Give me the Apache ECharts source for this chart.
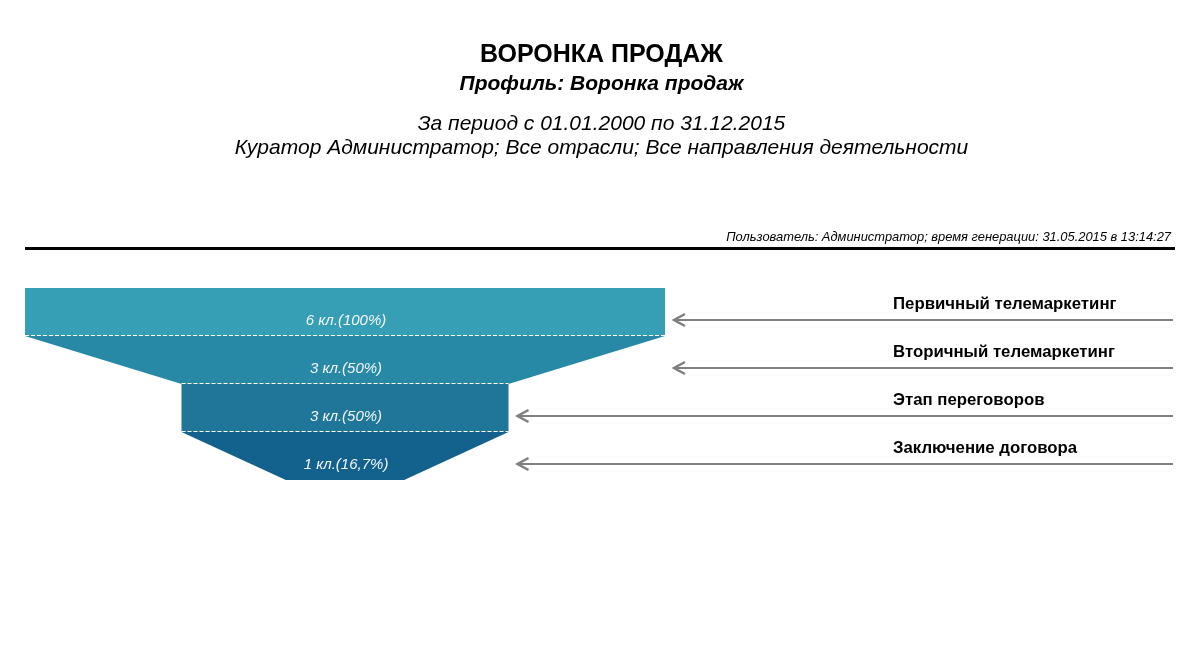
<!DOCTYPE html>
<html><head><meta charset="utf-8">
<script src="https://cdn.jsdelivr.net/npm/echarts@6/dist/echarts.min.js"></script>
<style>html,body{margin:0;padding:0;background:#fff}#c{width:1203px;height:648px}</style>
</head><body><div id="c"></div>
<script>
const stages = ['Первичный телемаркетинг', 'Вторичный телемаркетинг', 'Этап переговоров', 'Заключение договора'];
const clients = [6, 3, 3, 1];
const stageColors = ['#379fb5', '#2889a7', '#1f7698', '#13628d'];
const titleMain = 'ВОРОНКА ПРОДАЖ';
const titleProfile = 'Профиль: Воронка продаж';
const titlePeriod = 'За период с 01.01.2000 по 31.12.2015';
const titleFilter = 'Куратор Администратор; Все отрасли; Все направления деятельности';
const userLine = 'Пользователь: Администратор; время генерации: 31.05.2015 в 13:14:27';

const FONT = '"Liberation Sans", Arial, sans-serif';
const maxV = Math.max.apply(null, clients);
const minFrac = 14 / 640;
function frac(v) { return minFrac + (1 - minFrac) * v / maxV; }
function pct(v) {
  const p = Math.round(v / maxV * 1000) / 10;
  return String(p).replace('.', ',') + '%';
}

const seriesData = clients.map((v, i) => [i, v, i === 0 ? clients[0] : clients[i - 1]]);

const chart = echarts.init(document.getElementById('c'));
chart.setOption({
  animation: false,
  backgroundColor: '#fff',
  grid: { left: 25, width: 640, top: 288, height: 192 },
  xAxis: { type: 'value', min: -1, max: 1, show: false },
  yAxis: { type: 'value', min: 0, max: stages.length, inverse: true, show: false },
  graphic: [
    { type: 'text', left: 'center', top: 43, style: { text: titleMain, font: 'bold 25px ' + FONT, fill: '#000' } },
    { type: 'text', left: 'center', top: 74, style: { text: titleProfile, font: 'italic bold 21px ' + FONT, fill: '#000' } },
    { type: 'text', left: 'center', top: 114, style: { text: titlePeriod, font: 'italic 21px ' + FONT, fill: '#000' } },
    { type: 'text', left: 'center', top: 138, style: { text: titleFilter, font: 'italic 21px ' + FONT, fill: '#000' } },
    { type: 'text', right: 32, top: 231, style: { text: userLine, font: 'italic 12.9px ' + FONT, fill: '#000' } },
    { type: 'rect', left: 25, top: 247, shape: { width: 1150, height: 3 }, style: { fill: '#000' } }
  ],
  series: [{
    type: 'custom',
    clip: false,
    data: seriesData,
    renderItem: function (params, api) {
      const i = api.value(0);
      const v = api.value(1);
      const prev = api.value(2);
      const tw = frac(prev), bw = frac(v);
      const tl = api.coord([-tw, i]), tr = api.coord([tw, i]);
      const br = api.coord([bw, i + 1]), bl = api.coord([-bw, i + 1]);
      const cx = api.coord([0, i])[0];
      const children = [{
        type: 'polygon',
        shape: { points: [tl, tr, br, bl] },
        style: { fill: stageColors[i] }
      }];
      if (i < stages.length - 1) {
        children.push({
          type: 'line',
          shape: { x1: bl[0], y1: bl[1] - 0.5, x2: br[0], y2: br[1] - 0.5 },
          style: { stroke: '#ffffff', lineWidth: 1, lineDash: [4, 2] }
        });
      }
      const labelY = api.coord([0, i + 0.69])[1];
      children.push({
        type: 'text',
        style: { text: v + ' кл.(' + pct(v) + ')', x: cx + 1, y: labelY, align: 'center', verticalAlign: 'middle', font: 'italic 15px ' + FONT, fill: '#f2f6f8' }
      });
      const arrowY = Math.round(api.coord([0, i + 0.667])[1]);
      const tip = tr[0] + 8;
      const endX = api.getWidth() - 30;
      children.push({
        type: 'line',
        shape: { x1: tip + 1, y1: arrowY, x2: endX, y2: arrowY },
        style: { stroke: '#808080', lineWidth: 2 }
      });
      children.push({
        type: 'polyline',
        shape: { points: [[tip + 12, arrowY - 6], [tip + 1, arrowY], [tip + 12, arrowY + 6]] },
        style: { stroke: '#808080', lineWidth: 2.5, fill: null }
      });
      const nameY = api.coord([0, i + 0.333])[1];
      children.push({
        type: 'text',
        style: { text: stages[i], x: api.getWidth() - 310, y: nameY, align: 'left', verticalAlign: 'middle', font: 'bold 16.8px ' + FONT, fill: '#000' }
      });
      return { type: 'group', children: children };
    }
  }]
});
</script></body></html>
